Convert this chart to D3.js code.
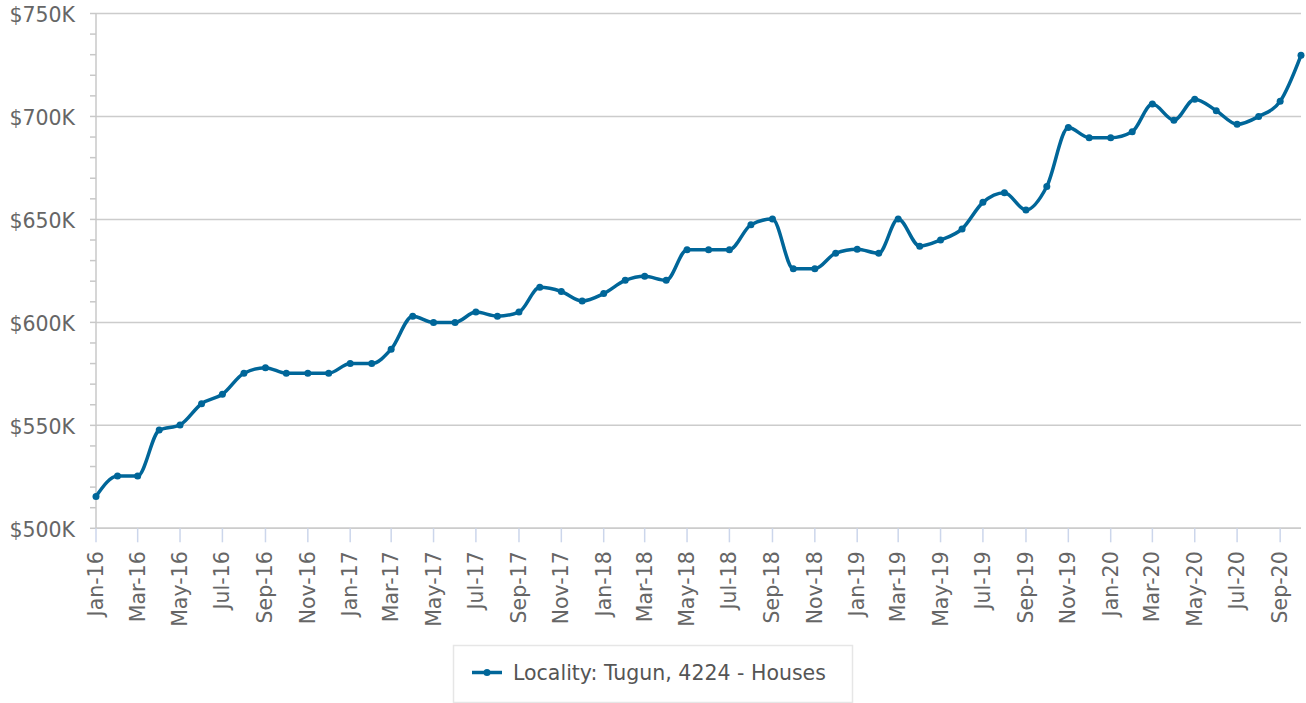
<!DOCTYPE html>
<html>
<head>
<meta charset="utf-8">
<script src="https://cdn.jsdelivr.net/npm/d3@7"></script>
<style>
  body { margin: 0; background: #fff; font-family: "DejaVu Sans", sans-serif; }
  .axis-label { fill: #666; font-size: 20.5px; }
</style>
</head>
<body>
<svg id="chart" width="1306" height="703"></svg>
<script>

// monthly median price, Jan-16 .. Oct-20 (in $K)
var months = [
  "2016-01","2016-02","2016-03","2016-04","2016-05","2016-06","2016-07","2016-08","2016-09","2016-10","2016-11","2016-12",
  "2017-01","2017-02","2017-03","2017-04","2017-05","2017-06","2017-07","2017-08","2017-09","2017-10","2017-11","2017-12",
  "2018-01","2018-02","2018-03","2018-04","2018-05","2018-06","2018-07","2018-08","2018-09","2018-10","2018-11","2018-12",
  "2019-01","2019-02","2019-03","2019-04","2019-05","2019-06","2019-07","2019-08","2019-09","2019-10","2019-11","2019-12",
  "2020-01","2020-02","2020-03","2020-04","2020-05","2020-06","2020-07","2020-08","2020-09","2020-10"
];
var prices = [
  515.5, 525.4, 525.4, 547.7, 550.2, 560.5, 565.1, 575.3, 578, 575.3, 575.3, 575.3,
  580, 580, 587, 603, 600, 600, 605, 603, 605, 617, 615, 610.4,
  614, 620.4, 622.4, 620.4, 635.3, 635.3, 635.3, 647.4, 650.2, 626, 626, 633.6,
  635.5, 633.6, 650.2, 637, 640, 645.4, 658.3, 663, 654.6, 666, 694.6, 689.7,
  689.7, 692.6, 706, 698.2, 708.4, 702.8, 696.2, 700, 707.4, 729.7
];
var yTicks = [500, 550, 600, 650, 700, 750];
var seriesName = "Locality: Tugun, 4224 - Houses";

var color = "#006699";
var parse = d3.timeParse("%Y-%m");
var data = months.map(function(m, i) { return { date: parse(m), value: prices[i] }; });

var svg = d3.select("#chart");
var plotLeft = 96, plotRight = 1301, plotTop = 13.5, plotBottom = 528.3;

///////////////////////
// Scales
var x = d3.scaleTime()
    .domain(d3.extent(data, function(d) { return d.date; }))
    .range([plotLeft, plotRight]);

var y = d3.scaleLinear()
    .domain([500, 750])
    .range([plotBottom, plotTop]);

///////////////////////
// Grid + y axis
svg.append("g")
  .selectAll("line")
  .data(yTicks)
  .enter().append("line")
    .attr("x1", plotLeft).attr("x2", plotRight)
    .attr("y1", function(d) { return y(d); })
    .attr("y2", function(d) { return y(d); })
    .attr("stroke", "#cccccc")
    .attr("stroke-width", 1.5);

// minor ticks every 10K
svg.append("g")
  .selectAll("line")
  .data(d3.range(500, 751, 10))
  .enter().append("line")
    .attr("x1", plotLeft - 6).attr("x2", plotLeft)
    .attr("y1", function(d) { return y(d); })
    .attr("y2", function(d) { return y(d); })
    .attr("stroke", "#c8c8c8")
    .attr("stroke-width", 1.5);

svg.append("line")
    .attr("x1", plotLeft).attr("x2", plotLeft)
    .attr("y1", plotTop).attr("y2", plotBottom)
    .attr("stroke", "#c8c8c8")
    .attr("stroke-width", 1.5);

svg.append("g")
  .selectAll("text")
  .data(yTicks)
  .enter().append("text")
    .attr("class", "axis-label")
    .attr("text-anchor", "end")
    .attr("x", plotLeft - 21)
    .attr("y", function(d) { return y(d) + 8.5; })
    .text(function(d) { return "$" + d + "K"; });

///////////////////////
// x axis
var xTicks = data.filter(function(d, i) { return i % 2 == 0; }).map(function(d) { return d.date; });
var fmt = d3.timeFormat("%b-%y");

svg.append("line")
    .attr("x1", plotLeft).attr("x2", plotRight)
    .attr("y1", plotBottom).attr("y2", plotBottom)
    .attr("stroke", "#cccccc")
    .attr("stroke-width", 1.5);

svg.append("g")
  .selectAll("line")
  .data(xTicks)
  .enter().append("line")
    .attr("x1", function(d) { return x(d); })
    .attr("x2", function(d) { return x(d); })
    .attr("y1", plotBottom).attr("y2", plotBottom + 14)
    .attr("stroke", "#ccd6eb")
    .attr("stroke-width", 1.5);

svg.append("g")
  .selectAll("text")
  .data(xTicks)
  .enter().append("text")
    .attr("class", "axis-label")
    .attr("text-anchor", "end")
    .attr("transform", function(d) { return "translate(" + (x(d) + 7) + "," + (plotBottom + 23) + ") rotate(-90)"; })
    .text(function(d) { return fmt(d); });

///////////////////////
// Line + markers
var line = d3.line()
    .x(function(d) { return x(d.date); })
    .y(function(d) { return y(d.value); })
    .curve(d3.curveMonotoneX);

svg.append("path")
    .datum(data)
    .attr("fill", "none")
    .attr("stroke", color)
    .attr("stroke-width", 3.5)
    .attr("stroke-linejoin", "round")
    .attr("d", line);

svg.append("g")
  .selectAll("circle")
  .data(data)
  .enter().append("circle")
    .attr("cx", function(d) { return x(d.date); })
    .attr("cy", function(d) { return y(d.value); })
    .attr("r", 3.5)
    .attr("fill", color);

///////////////////////
// Legend
var legend = svg.append("g").attr("transform", "translate(453,645)");
legend.append("rect")
    .attr("x", 0.5).attr("y", 0.5)
    .attr("width", 399).attr("height", 57)
    .attr("fill", "#fff")
    .attr("stroke", "#e6e6e6")
    .attr("stroke-width", 1.5);
legend.append("line")
    .attr("x1", 19).attr("x2", 49)
    .attr("y1", 27.5).attr("y2", 27.5)
    .attr("stroke", color)
    .attr("stroke-width", 3.5);
legend.append("circle")
    .attr("cx", 34).attr("cy", 27.5).attr("r", 3.5)
    .attr("fill", color);
legend.append("text")
    .attr("class", "axis-label")
    .attr("x", 60)
    .attr("y", 35)
    .style("fill", "#555")
    .text(seriesName);

</script>
</body>
</html>
